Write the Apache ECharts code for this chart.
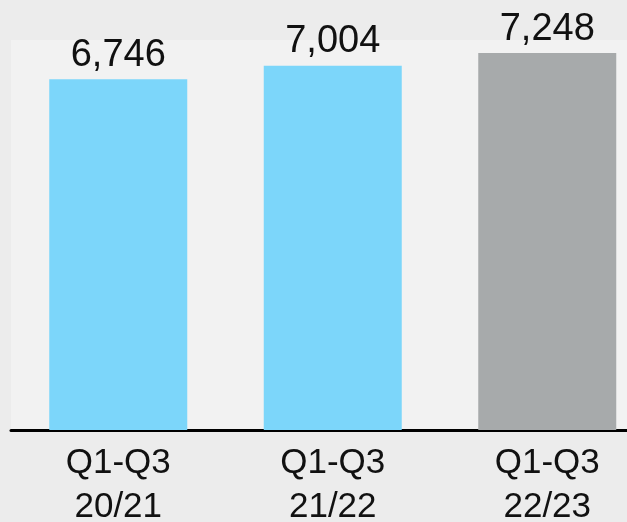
<!DOCTYPE html>
<html>
<head>
<meta charset="utf-8">
<script src="https://cdn.jsdelivr.net/npm/echarts@6/dist/echarts.min.js"></script>
<style>
html,body{margin:0;padding:0;background:#ececec;}
#chart{width:627px;height:522px;}
</style>
</head>
<body>
<div id="chart"></div>
<script>
const categories = ['Q1-Q3\n20/21', 'Q1-Q3\n21/22', 'Q1-Q3\n22/23'];
const values = [6746, 7004, 7248];
const barColors = ['#7cd6fa', '#7cd6fa', '#a7aaab'];

const chart = echarts.init(document.getElementById('chart'), null, {renderer: 'canvas'});
chart.setOption({
  backgroundColor: '#ececec',
  animation: false,
  textStyle: {fontFamily: 'Liberation Sans, Arial, sans-serif'},
  grid: {
    left: 11, width: 643.5, top: 40, height: 390,
    outerBoundsMode: 'none', containLabel: false,
    show: true, backgroundColor: '#f2f2f2', borderWidth: 0
  },
  xAxis: {
    type: 'category',
    data: categories,
    offset: 1.5,
    axisLine: {lineStyle: {color: '#000', width: 3}},
    axisTick: {show: false},
    axisLabel: {
      color: '#111', fontSize: 35, lineHeight: 44, margin: 10,
      fontFamily: 'Liberation Sans, Arial, sans-serif'
    },
    splitLine: {show: false}
  },
  yAxis: {
    type: 'value', min: 0, max: 7500, show: false,
    splitLine: {show: false}
  },
  series: [{
    type: 'bar',
    barWidth: 138,
    data: values.map((v, i) => ({value: v, itemStyle: {color: barColors[i]}})),
    label: {
      show: true, position: 'top', distance: 5,
      color: '#111', fontSize: 38,
      fontFamily: 'Liberation Sans, Arial, sans-serif',
      formatter: p => p.value.toLocaleString('en-US')
    }
  }]
});
</script>
</body>
</html>
